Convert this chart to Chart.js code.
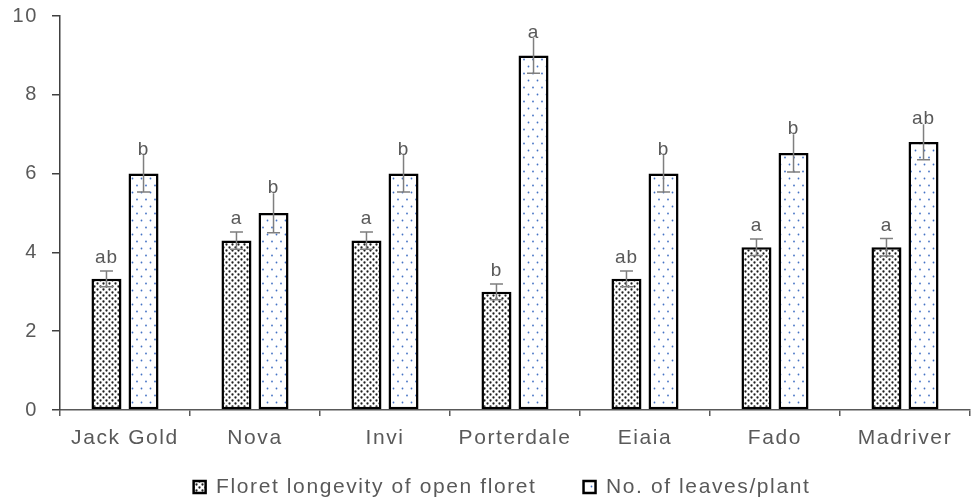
<!DOCTYPE html>
<html>
<head>
<meta charset="utf-8">
<script src="https://cdn.jsdelivr.net/npm/chart.js@4.4.1/dist/chart.umd.min.js"></script>
<style>
  html, body { margin: 0; padding: 0; background: #fff; }
  #wrap { width: 971px; height: 500px; }
</style>
</head>
<body>
<div id="wrap"><canvas id="chart" width="971" height="500"></canvas></div>
<script>
// ---- data ----
const categories = ['Jack Gold', 'Nova', 'Invi', 'Porterdale', 'Eiaia', 'Fado', 'Madriver'];

const floretLongevity = [3.33, 4.3, 4.3, 3.0, 3.33, 4.13, 4.13];
const floretErr       = [0.2, 0.22, 0.22, 0.2, 0.2, 0.21, 0.22];
const floretLetters   = ['ab', 'a', 'a', 'b', 'ab', 'a', 'a'];

const leavesPerPlant  = [6.0, 5.0, 6.0, 9.0, 6.0, 6.52, 6.8];
const leavesErr       = [0.47, 0.5, 0.47, 0.45, 0.47, 0.48, 0.45];
const leavesLetters   = ['b', 'b', 'b', 'a', 'b', 'b', 'ab'];

const yTicks = [0, 2, 4, 6, 8, 10];

const TEXT = '#595959';
const FONT = "'Liberation Sans', Arial, sans-serif";

// small repeating dot fills, like the excel pattern fills
function dotPattern(w, h, dots, color, r) {
  const c = document.createElement('canvas');
  c.width = w; c.height = h;
  const g = c.getContext('2d');
  g.fillStyle = '#fff';
  g.fillRect(0, 0, w, h);
  g.fillStyle = color;
  dots.forEach(([x, y]) => { g.beginPath(); g.arc(x, y, r, 0, Math.PI * 2); g.fill(); });
  return g.createPattern(c, 'repeat');
}
const densePattern = dotPattern(6, 6, [[1.5, 1.5], [4.5, 4.5]], '#1e1e1e', 1.15);
const bluePattern = dotPattern(9, 14, [[2, 3.5], [6.5, 10.5]], '#4472c4', 0.9);

const spacing = {
  id: 'spacing',
  beforeUpdate(chart) { chart.ctx.letterSpacing = '1.6px'; },
  beforeDraw(chart) { chart.ctx.letterSpacing = '1.6px'; },
  afterLayout(chart) {
    // legend sits lower and a bit right of the default spot
    const lg = chart.legend;
    lg.top = 429.5; lg.bottom = lg.top + lg.height;
    lg.left += 17; lg.right += 17;
  }
};

// error bars + significance letters
const errorBars = {
  id: 'errorBars',
  afterDatasetsDraw(chart) {
    const { ctx, scales: { y } } = chart;
    chart.data.datasets.forEach((ds, i) => {
      const meta = chart.getDatasetMeta(i);
      meta.data.forEach((bar, j) => {
        const v = ds.data[j], e = ds.errors[j];
        const yt = y.getPixelForValue(v + e);
        const yb = y.getPixelForValue(v - e);
        const x = bar.x;
        ctx.save();
        ctx.strokeStyle = '#7f7f7f';
        ctx.lineWidth = 1.5;
        ctx.beginPath();
        ctx.moveTo(x, yt); ctx.lineTo(x, yb);
        ctx.moveTo(x - 6.5, yb); ctx.lineTo(x + 6.5, yb);
        if (ds.capTop) { ctx.moveTo(x - 6.5, yt); ctx.lineTo(x + 6.5, yt); }
        ctx.stroke();
        ctx.fillStyle = TEXT;
        ctx.font = '19px ' + FONT;
        ctx.letterSpacing = '1px';
        ctx.textAlign = 'center';
        ctx.textBaseline = 'alphabetic';
        ctx.fillText(ds.letters[j], x, yt - ds.letterGap);
        ctx.restore();
      });
    });
  }
};

new Chart(document.getElementById('chart'), {
  type: 'bar',
  data: {
    labels: categories,
    datasets: [
      {
        label: 'Floret longevity of open floret',
        data: floretLongevity,
        errors: floretErr,
        letters: floretLetters,
        capTop: true,
        letterGap: 8,
        backgroundColor: densePattern,
        borderColor: '#000',
        borderWidth: 2.5,
        borderSkipped: false
      },
      {
        label: 'No. of leaves/plant',
        data: leavesPerPlant,
        errors: leavesErr,
        letters: leavesLetters,
        capTop: false,
        letterGap: 0,
        backgroundColor: bluePattern,
        borderColor: '#000',
        borderWidth: 2.5,
        borderSkipped: false
      }
    ]
  },
  options: {
    responsive: false,
    animation: false,
    events: [],
    categoryPercentage: 0.57,
    barPercentage: 0.81,
    layout: { padding: { top: 16, right: 1, left: 0, bottom: -38 } },
    plugins: {
      tooltip: { enabled: false },
      legend: {
        position: 'bottom',
        labels: {
          boxWidth: 12,
          boxHeight: 12,
          padding: 47,
          color: TEXT,
          font: { family: FONT, size: 21 }
        }
      }
    },
    scales: {
      x: {
        afterFit(scale) { scale.height = 50; },
        grid: { display: true, drawOnChartArea: false, offset: true, tickLength: 6, color: '#595959', lineWidth: 1.5 },
        border: { color: '#595959', width: 1.5 },
        ticks: { color: TEXT, padding: 10, font: { family: FONT, size: 21 } }
      },
      y: {
        min: 0,
        max: 10,
        afterFit(scale) {
          scale.width = 60;
          scale.paddingTop = 0;
          scale.paddingBottom = 0;
        },
        afterBuildTicks(scale) { scale.ticks = yTicks.map(v => ({ value: v })); },
        grid: { display: true, drawOnChartArea: false, tickLength: 8, color: '#404040', lineWidth: 1.5 },
        border: { color: '#404040', width: 1.5 },
        ticks: { color: TEXT, padding: 14, font: { family: FONT, size: 20 } }
      }
    }
  },
  plugins: [spacing, errorBars]
});
</script>
</body>
</html>
